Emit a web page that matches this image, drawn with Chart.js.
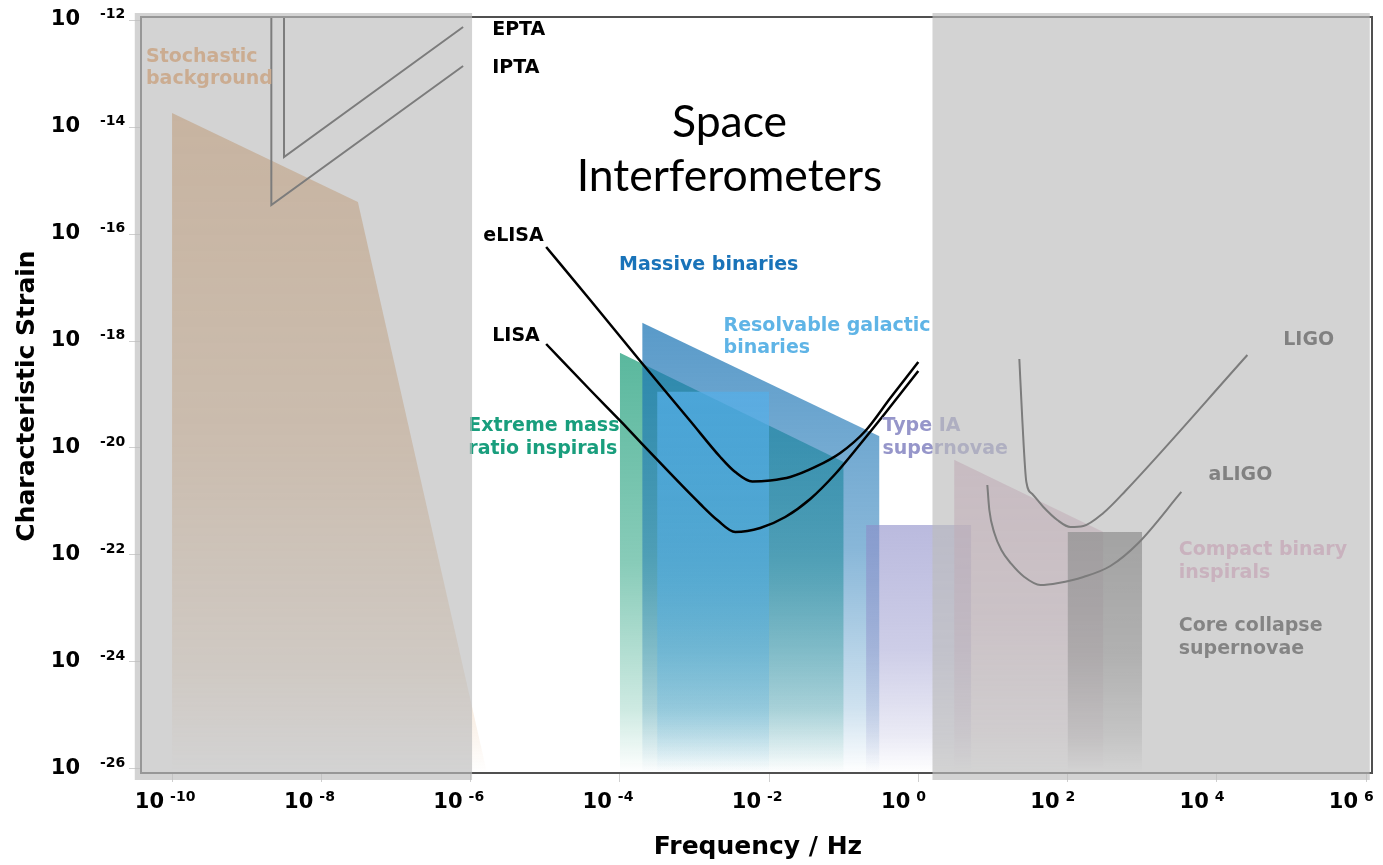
<!DOCTYPE html>
<html>
<head>
<meta charset="utf-8">
<title>Gravitational wave sources and detectors</title>
<script src="https://cdn.jsdelivr.net/npm/chart.js@4/dist/chart.umd.min.js"></script>
<style>
  html, body { margin: 0; padding: 0; background: #fff; }
  #wrap { width: 1383px; height: 865px; position: relative; }
</style>
</head>
<body>
<div id="wrap"><canvas id="c" width="1383" height="865"></canvas></div>
<script>
// ---- axis ranges (log10 of Hz and of strain) ----
const freqRangeLog = [-10.43, 6.08];
const strainRangeLog = [-26.075, -11.925];

// ---- tick values ----
const freqTickExps = [-10, -8, -6, -4, -2, 0, 2, 4, 6];
const strainTickExps = [-12, -14, -16, -18, -20, -22, -24, -26];

// ---- source regions: log10 frequency / log10 upper strain edge ----
const stochasticLogF = [-10.0, -7.51, -5.78];
const stochasticLogH = [-13.74, -15.40, -26.075];
const emriLogF = [-4.0, -1.0];
const emriLogH = [-18.22, -20.26];
const massiveLogF = [-3.70, -0.52];
const massiveLogH = [-17.66, -19.78];
const galacticLogF = [-3.5, -2.0];
const galacticLogH = [-18.95, -18.95];
const typeIaLogF = [-0.70, 0.71];
const typeIaLogH = [-21.44, -21.44];
const compactLogF = [0.48, 2.48];
const compactLogH = [-20.22, -21.57];
const coreLogF = [2.0, 3.0];
const coreLogH = [-21.57, -21.57];

// ---- detector sensitivity curves ----
const eptaLogF = [-8.5, -8.5, -6.10];
const eptaLogH = [-11.5, -14.56, -12.13];
const iptaLogF = [-8.67, -8.67, -6.10];
const iptaLogH = [-11.5, -15.46, -12.86];
const elisaLogF = [-4.987, -4.397, -3.727, -3.056, -2.654, -2.453, -2.225, -1.984, -1.716, -1.381, -1.046, -0.710, -0.375, 0.0];
const elisaLogH = [-16.243, -17.234, -18.374, -19.495, -20.168, -20.449, -20.626, -20.607, -20.542, -20.355, -20.093, -19.682, -19.065, -18.393];
const lisaLogF = [-4.987, -4.397, -3.954, -3.458, -2.922, -2.694, -2.453, -2.118, -1.783, -1.448, -1.113, -0.777, -0.442, 0.0];
const lisaLogH = [-18.056, -18.916, -19.551, -20.280, -21.047, -21.346, -21.570, -21.495, -21.290, -20.953, -20.486, -19.925, -19.346, -18.561];
const ligoLogF = [1.354, 1.394, 1.448, 1.528, 1.676, 1.863, 2.038, 2.212, 2.480, 2.775, 4.41];
const ligoLogH = [-18.336, -19.477, -20.636, -20.860, -21.103, -21.346, -21.477, -21.458, -21.215, -20.804, -18.262];
const aligoLogF = [0.925, 0.952, 1.019, 1.113, 1.247, 1.421, 1.635, 1.877, 2.212, 2.574, 2.949, 3.525];
const aligoLogH = [-20.692, -21.159, -21.589, -21.907, -22.168, -22.411, -22.561, -22.523, -22.411, -22.206, -21.776, -20.822];

// ---- frequency bands shaded grey (pulsar timing / ground based) ----
const greyBandsLogF = [[-10.5, -5.98], [0.19, 6.05]];

// ---- text annotations, anchored in log10 data coordinates ----
const annotations = [
  { lines: ['Stochastic', 'background'], lf: -10.35, lh: -12.69, color: 'rgb(232,142,62)' },
  { lines: ['EPTA'], lf: -5.71, lh: -12.19, color: '#000' },
  { lines: ['IPTA'], lf: -5.71, lh: -12.90, color: '#000' },
  { lines: ['eLISA'], lf: -5.83, lh: -16.04, color: '#000' },
  { lines: ['LISA'], lf: -5.71, lh: -17.91, color: '#000' },
  { lines: ['Massive binaries'], lf: -4.01, lh: -16.58, color: 'rgb(25,115,185)' },
  { lines: ['Resolvable galactic', 'binaries'], lf: -2.61, lh: -17.72, color: 'rgb(95,180,230)' },
  { lines: ['Extreme mass', 'ratio inspirals'], lf: -6.03, lh: -19.59, color: 'rgb(25,158,125)' },
  { lines: ['Type IA', 'supernovae'], lf: -0.48, lh: -19.59, color: 'rgb(150,150,202)' },
  { lines: ['LIGO'], lf: 4.89, lh: -17.98, color: 'rgb(15,15,15)' },
  { lines: ['aLIGO'], lf: 3.89, lh: -20.50, color: 'rgb(15,15,15)' },
  { lines: ['Compact binary', 'inspirals'], lf: 3.49, lh: -21.91, color: 'rgb(226,158,192)' },
  { lines: ['Core collapse', 'supernovae'], lf: 3.49, lh: -23.33, color: 'rgb(25,25,25)' }
];
const heading = { lines: ['Space', 'Interferometers'], lf: -2.53, lh: [-14.19, -15.20] };

const pts = (lf, lh) => lf.map((f, i) => ({ x: Math.pow(10, f), y: Math.pow(10, lh[i]) }));

// vertical fade from the top of a region down to the bottom of the plot
function fade(rgb, a) {
  return (context) => {
    const chart = context.chart;
    const area = chart.chartArea;
    if (!area || !chart.scales.y) return `rgba(${rgb},${a})`;
    const ds = chart.data.datasets[context.datasetIndex];
    const top = Math.min(...ds.data.map(p => chart.scales.y.getPixelForValue(p.y)));
    const g = chart.ctx.createLinearGradient(0, Math.max(top, area.top), 0, area.bottom);
    g.addColorStop(0, `rgba(${rgb},${a})`);
    g.addColorStop(0.5, `rgba(${rgb},${a * 0.72})`);
    g.addColorStop(0.85, `rgba(${rgb},${a * 0.3})`);
    g.addColorStop(1, `rgba(${rgb},0)`);
    return g;
  };
}

function region(label, lf, lh, rgb, a, order) {
  return {
    label, data: pts(lf, lh), fill: 'start', borderWidth: 0, borderColor: 'rgba(0,0,0,0)',
    backgroundColor: fade(rgb, a), pointRadius: 0, tension: 0, order
  };
}
function curve(label, lf, lh, width, smooth, order) {
  return {
    label, data: pts(lf, lh), fill: false, borderColor: '#000', borderWidth: width,
    pointRadius: 0, order, tension: 0,
    cubicInterpolationMode: smooth ? 'monotone' : 'default'
  };
}

const datasets = [
  curve('EPTA', eptaLogF, eptaLogH, 2, false, 1),
  curve('IPTA', iptaLogF, iptaLogH, 2, false, 1),
  curve('eLISA', elisaLogF, elisaLogH, 2.5, true, 1),
  curve('LISA', lisaLogF, lisaLogH, 2.5, true, 1),
  curve('LIGO', ligoLogF, ligoLogH, 2, true, 1),
  curve('aLIGO', aligoLogF, aligoLogH, 2, true, 1),
  region('Core collapse supernovae', coreLogF, coreLogH, '60,60,60', 0.72, 10),
  region('Compact binary inspirals', compactLogF, compactLogH, '200,140,170', 0.6, 11),
  region('Type IA supernovae', typeIaLogF, typeIaLogH, '140,140,200', 0.6, 12),
  region('Resolvable galactic binaries', galacticLogF, galacticLogH, '85,175,232', 0.72, 13),
  region('Massive binaries', massiveLogF, massiveLogH, '25,115,180', 0.72, 14),
  region('Extreme mass ratio inspirals', emriLogF, emriLogH, '35,160,125', 0.75, 15),
  region('Stochastic background', stochasticLogF, stochasticLogH, '215,148,82', 0.85, 16)
];

const BOLD = '"DejaVu Sans", sans-serif';

const decor = {
  id: 'decor',
  afterDatasetsDraw(chart) {
    const { ctx, chartArea: a, scales: { x, y } } = chart;
    ctx.save();
    // source and detector names
    ctx.font = `bold 19px ${BOLD}`;
    ctx.textBaseline = 'middle';
    ctx.textAlign = 'left';
    annotations.forEach(t => {
      const px = x.getPixelForValue(Math.pow(10, t.lf));
      const py = y.getPixelForValue(Math.pow(10, t.lh));
      ctx.fillStyle = t.color;
      t.lines.forEach((s, i) => ctx.fillText(s, px, py + i * 22.5));
    });
    // heading of the space band
    ctx.font = '44.5px Lato, "Open Sans", sans-serif';
    ctx.textAlign = 'center';
    ctx.textBaseline = 'alphabetic';
    ctx.fillStyle = '#000';
    const hx = x.getPixelForValue(Math.pow(10, heading.lf));
    heading.lines.forEach((s, i) => ctx.fillText(s, hx, y.getPixelForValue(Math.pow(10, heading.lh[i]))));
    // plot frame
    ctx.strokeStyle = '#505050';
    ctx.lineWidth = 2;
    ctx.strokeRect(a.left + 1, a.top + 1, a.right - a.left - 1, a.bottom - a.top - 1);
    // translucent grey bands
    ctx.fillStyle = 'rgba(188,188,188,0.66)';
    greyBandsLogF.forEach(b => {
      const x0 = x.getPixelForValue(Math.pow(10, b[0]));
      const x1 = x.getPixelForValue(Math.pow(10, b[1]));
      ctx.fillRect(x0, a.top - 3, x1 - x0, a.bottom - a.top + 10);
    });
    ctx.restore();
  },
  afterDraw(chart) {
    const { ctx, chartArea: a, scales: { x, y } } = chart;
    ctx.save();
    ctx.fillStyle = '#000';
    ctx.textBaseline = 'middle';
    // strain tick labels: 10 with raised exponent
    strainTickExps.forEach(e => {
      const py = y.getPixelForValue(Math.pow(10, e));
      ctx.font = `bold 21px ${BOLD}`;
      ctx.textAlign = 'right';
      ctx.fillText('10', 80, py);
      ctx.font = `bold 14px ${BOLD}`;
      ctx.textAlign = 'left';
      ctx.fillText(String(e), 100, py - 6);
    });
    // frequency tick labels
    freqTickExps.forEach(e => {
      const px = x.getPixelForValue(Math.pow(10, e));
      ctx.font = `bold 21px ${BOLD}`;
      ctx.textAlign = 'right';
      ctx.fillText('10', px - 8, a.bottom + 30);
      ctx.font = `bold 14px ${BOLD}`;
      ctx.textAlign = 'left';
      ctx.fillText(String(e), px - 2, a.bottom + 24);
    });
    // axis titles
    ctx.font = `bold 25px ${BOLD}`;
    ctx.textAlign = 'center';
    ctx.fillText('Frequency / Hz', (a.left + a.right) / 2 + 2, a.bottom + 74);
    ctx.translate(27, 396);
    ctx.rotate(-Math.PI / 2);
    ctx.fillText('Characteristic Strain', 0, 0);
    ctx.restore();
  }
};

new Chart(document.getElementById('c'), {
  type: 'line',
  data: { datasets },
  options: {
    responsive: false,
    animation: false,
    devicePixelRatio: 1,
    layout: { padding: { left: 0, right: 11, top: 16, bottom: 0 } },
    plugins: { legend: { display: false }, tooltip: { enabled: false } },
    events: [],
    scales: {
      x: {
        type: 'logarithmic',
        bounds: 'data',
        min: Math.pow(10, freqRangeLog[0]),
        max: Math.pow(10, freqRangeLog[1]),
        afterBuildTicks: s => { s.ticks = freqTickExps.map(e => ({ value: Math.pow(10, e) })); },
        afterFit: s => { s.height = 92; },
        ticks: { display: false, autoSkip: false },
        grid: { drawOnChartArea: false, drawTicks: true, tickLength: 9, color: '#cfcfcf' },
        border: { display: false }
      },
      y: {
        type: 'logarithmic',
        bounds: 'data',
        min: Math.pow(10, strainRangeLog[0]),
        max: Math.pow(10, strainRangeLog[1]),
        afterBuildTicks: s => { s.ticks = strainTickExps.map(e => ({ value: Math.pow(10, e) })); },
        afterFit: s => { s.width = 140; },
        ticks: { display: false, autoSkip: false },
        grid: { drawOnChartArea: false, drawTicks: true, tickLength: 11, color: '#cfcfcf' },
        border: { display: false }
      }
    }
  },
  plugins: [decor]
});
</script>
</body>
</html>
